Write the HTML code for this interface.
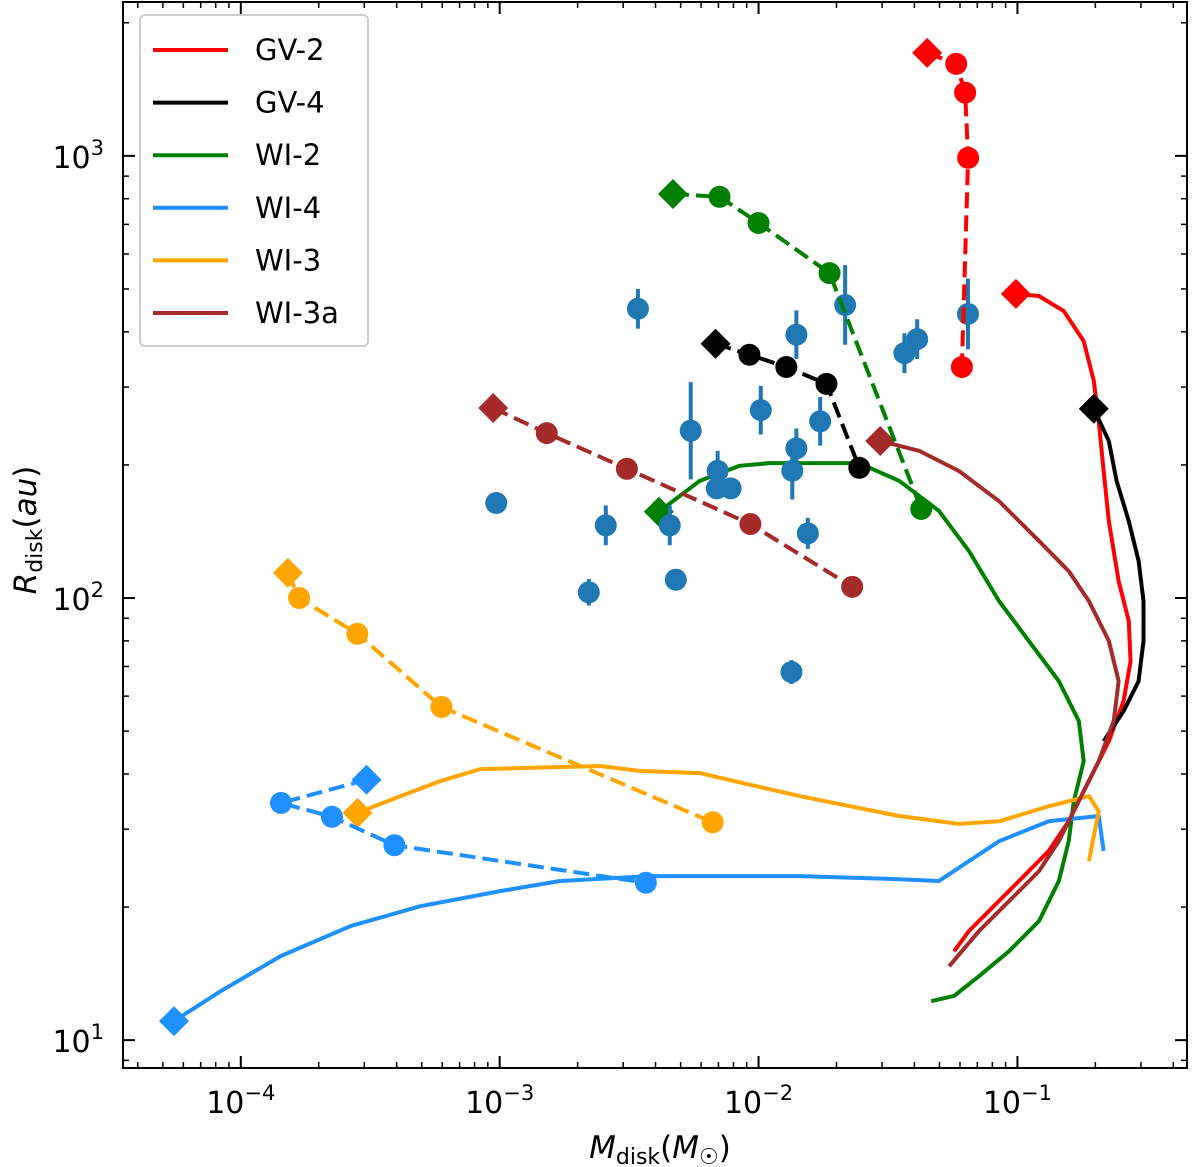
<!DOCTYPE html>
<html><head><meta charset="utf-8"><style>
html,body{margin:0;padding:0;background:#fff;}
svg{display:block;font-family:"DejaVu Sans","Liberation Sans",sans-serif;}
</style></head><body>
<svg id="chart" width="1200" height="1167" viewBox="0 0 1200 1167" xmlns="http://www.w3.org/2000/svg">
<g id="plot"></g>
</svg>
<script>
// ---------- data ----------
const xTickExps = [-4, -3, -2, -1];
const yTickExps = [1, 2, 3];
const seriesNames = ["GV-2", "GV-4", "WI-2", "WI-4", "WI-3", "WI-3a"];
const seriesColors = ["#ff0000", "#000000", "#008000", "#1e90ff", "#ffa500", "#a52a2a"];

// dashed tracks (Mdisk in Msun, Rdisk in au); first point is diamond
const gv2DashM = [0.0448, 0.058, 0.0628, 0.0645, 0.061];
const gv2DashR = [1710, 1615, 1390, 990, 333];
const gv4DashM = [0.00682, 0.00922, 0.0128, 0.0183, 0.0245];
const gv4DashR = [376, 355, 333, 305, 197];
const wi2DashM = [0.00467, 0.00707, 0.01, 0.0188, 0.0425];
const wi2DashR = [820, 808, 705, 543, 159];
const wi4DashM = [0.000306, 0.000143, 0.000225, 0.000392, 0.00367];
const wi4DashR = [38.8, 34.4, 32.0, 27.6, 22.7];
const wi3DashM = [0.000152, 0.000168, 0.000282, 0.000596, 0.00665];
const wi3DashR = [114, 100, 83, 56.7, 31.1];
const wi3aDashM = [0.000944, 0.00152, 0.0031, 0.0093, 0.023];
const wi3aDashR = [269, 236, 196, 147, 106];

// solid tracks stored as log10 values
const gv2LogM = [-1.006,-0.917,-0.821,-0.744,-0.705,-0.686,-0.667,-0.647,-0.609,-0.570,-0.563,-0.590,-0.647,-0.724,-0.802,-0.879,-0.994,-1.110,-1.187,-1.245];
const gv2LogR = [2.688,2.683,2.649,2.581,2.491,2.400,2.287,2.174,2.038,1.948,1.857,1.767,1.676,1.586,1.495,1.428,1.360,1.292,1.247,1.201];
const gv4LogM = [-0.705,-0.647,-0.617,-0.570,-0.532,-0.513,-0.513,-0.532,-0.590,-0.667];
const gv4LogR = [2.428,2.355,2.265,2.174,2.084,1.993,1.903,1.812,1.744,1.676];
const wi2LogM = [-2.385,-2.227,-2.073,-1.958,-1.611,-1.457,-1.303,-1.187,-1.071,-0.956,-0.840,-0.763,-0.744,-0.782,-0.802,-0.840,-0.917,-1.033,-1.148,-1.245,-1.333];
const wi2LogR = [2.195,2.265,2.299,2.305,2.305,2.265,2.197,2.106,1.993,1.903,1.812,1.722,1.631,1.541,1.450,1.360,1.269,1.201,1.145,1.100,1.088];
const wi4LogM = [-4.258,-4.077,-3.846,-3.576,-3.306,-2.998,-2.767,-2.420,-1.842,-1.457,-1.303,-1.187,-1.071,-0.879,-0.686,-0.667];
const wi4LogR = [1.043,1.111,1.190,1.258,1.303,1.337,1.360,1.371,1.371,1.364,1.360,1.405,1.450,1.495,1.507,1.428];
const wi3LogM = [-3.549,-3.383,-3.229,-3.075,-2.613,-2.459,-2.227,-1.842,-1.457,-1.225,-1.071,-0.879,-0.724,-0.686,-0.724];
const wi3LogR = [1.514,1.552,1.586,1.613,1.620,1.609,1.604,1.552,1.507,1.489,1.495,1.529,1.552,1.518,1.405];
const wi3aLogM = [-1.530,-1.380,-1.225,-1.071,-0.917,-0.802,-0.724,-0.647,-0.609,-0.628,-0.686,-0.763,-0.840,-0.917,-1.033,-1.148,-1.264];
const wi3aLogR = [2.355,2.333,2.287,2.219,2.129,2.061,1.993,1.903,1.812,1.722,1.631,1.541,1.450,1.382,1.314,1.247,1.167];

// observations
const obsM = [0.00342,0.00097,0.00221,0.00257,0.00479,0.00547,0.00695,0.0078,0.00454,0.0102,0.014,0.014,0.0135,0.0173,0.0155,0.0134,0.0216,0.0366,0.041,0.0644,0.0069];
const obsR = [451,164,103,146,110,239,194,177,146,266,394,218,194,251,140,68,460,358,385,439,177];
const obsErrDex = [0.045,0.01,0.03,0.045,0,0.11,0.045,0.02,0.045,0.055,0.055,0.045,0.065,0.055,0.035,0.027,0.09,0.045,0.045,0.08,0];

// ---------- axes ----------
const L=123, R=1187, T=2, B=1068;
const xMinLog=-4.455, xMaxLog=-0.345, yMinLog=0.937, yMaxLog=3.348;
function xL(l){return L+(l-xMinLog)/(xMaxLog-xMinLog)*(R-L);}
function yL(l){return B-(l-yMinLog)/(yMaxLog-yMinLog)*(B-T);}
function xV(v){return xL(Math.log10(v));}
function yV(v){return yL(Math.log10(v));}
const NS="http://www.w3.org/2000/svg";
const g=document.getElementById('plot');
function mk(tag,attrs,parent){const e=document.createElementNS(NS,tag);for(const k in attrs)e.setAttribute(k,attrs[k]);(parent||g).appendChild(e);return e;}
const DS=15;
function diamond(cx,cy){return [[0,-DS],[DS,0],[0,DS],[-DS,0]].map(q=>(cx+q[0])+','+(cy+q[1])).join(' ');}

const solids=[[gv2LogM,gv2LogR],[gv4LogM,gv4LogR],[wi2LogM,wi2LogR],[wi4LogM,wi4LogR],[wi3LogM,wi3LogR],[wi3aLogM,wi3aLogR]];
const dashes=[[gv2DashM,gv2DashR],[gv4DashM,gv4DashR],[wi2DashM,wi2DashR],[wi4DashM,wi4DashR],[wi3DashM,wi3DashR],[wi3aDashM,wi3aDashR]];
const drawOrder=[0,1,2,3,4,5];
drawOrder.forEach(i=>{
  const [lm,lr]=solids[i];
  const p=mk('polyline',{points:lm.map((m,j)=>xL(m)+','+yL(lr[j])).join(' '),fill:'none',stroke:seriesColors[i],'stroke-width':4,'stroke-linejoin':'round'});
  
  
  const d=mk('polygon',{points:diamond(xL(lm[0]),yL(lr[0])),fill:seriesColors[i]});
  
  
});
obsM.forEach((m,i)=>{
  const cx=xV(m), cy=yV(obsR[i]);
  const e=mk('line',{x1:cx,x2:cx,y1:yL(Math.log10(obsR[i])+obsErrDex[i]),y2:yL(Math.log10(obsR[i])-obsErrDex[i]),stroke:'#1f77b4','stroke-width':4});
  
  
  const c=mk('circle',{cx:cx,cy:cy,r:11,fill:'#1f77b4'});
  
  
});
drawOrder.forEach(i=>{
  const [ms,rs]=dashes[i];
  const p=mk('polyline',{points:ms.map((m,j)=>xV(m)+','+yV(rs[j])).join(' '),fill:'none',stroke:seriesColors[i],'stroke-width':4,'stroke-dasharray':'16,7'});
  
  
  ms.forEach((m,j)=>{
    const cx=xV(m), cy=yV(rs[j]);
    let e;
    if(j===0){e=mk('polygon',{points:diamond(cx,cy),fill:seriesColors[i]});}
    else{e=mk('circle',{cx:cx,cy:cy,r:11,fill:seriesColors[i]});}
    
    
  });
});
const fr=mk('rect',{x:L,y:T,width:R-L,height:B-T,fill:'none',stroke:'#000','stroke-width':2});


for(let e=-5;e<=0;e++){for(let k=1;k<10;k++){const l=e+Math.log10(k);if(l<xMinLog||l>xMaxLog)continue;const x=xL(l);const len=k===1?12:6;
  const t=mk('line',{x1:x,x2:x,y1:B,y2:B-len,stroke:'#000','stroke-width':k===1?2:1.5});
  
  
  const t2=mk('line',{x1:x,x2:x,y1:T,y2:T+len,stroke:'#000','stroke-width':k===1?2:1.5});
  
  
}}
for(let e=0;e<=4;e++){for(let k=1;k<10;k++){const l=e+Math.log10(k);if(l<yMinLog||l>yMaxLog)continue;const y=yL(l);const len=k===1?12:6;
  const t=mk('line',{x1:L,x2:L+len,y1:y,y2:y,stroke:'#000','stroke-width':k===1?2:1.5});
  
  
  const t2=mk('line',{x1:R,x2:R-len,y1:y,y2:y,stroke:'#000','stroke-width':k===1?2:1.5});
  
  
}}
xTickExps.forEach(e=>{
  const t=mk('text',{x:xL(e),y:1113,'text-anchor':'middle','font-size':30,fill:'#000'});
  
  
  t.innerHTML='10<tspan dy="-13" font-size="21">\u2212'+Math.abs(e)+'</tspan>';
});
yTickExps.forEach(e=>{
  const t=mk('text',{x:104,y:yL(e)+12,'text-anchor':'end','font-size':30,fill:'#000'});
  
  
  t.innerHTML='10<tspan dy="-13" font-size="21">'+e+'</tspan>';
});
const xt=mk('text',{x:660,y:1158,'text-anchor':'middle','font-size':31,fill:'#000'});


xt.innerHTML='<tspan font-style="italic">M</tspan><tspan font-size="22" dy="6">disk</tspan><tspan dy="-6">(</tspan><tspan font-style="italic">M</tspan><tspan font-size="22" dy="6">\u2609</tspan><tspan dy="-6">)</tspan>';
const yt=mk('text',{x:0,y:0,'text-anchor':'middle','font-size':31,fill:'#000',transform:'translate(36,530) rotate(-90)'});


yt.innerHTML='<tspan font-style="italic">R</tspan><tspan font-size="22" dy="6">disk</tspan><tspan dy="-6">(</tspan><tspan font-style="italic">au</tspan>)';
const lg=mk('g',{});


const lb=mk('rect',{x:140,y:15,width:228,height:331,rx:5,fill:'#fff',stroke:'#ccc','stroke-width':2},lg);


seriesNames.forEach((n,i)=>{
  const y=50+i*52.6;
  const eg=mk('g',{},lg);
  
  
  mk('line',{x1:153,x2:228,y1:y,y2:y,stroke:seriesColors[i],'stroke-width':4},eg);
  const t=mk('text',{x:255,y:y+10,'font-size':29,fill:'#000'},eg);
  t.textContent=n;
});
</script>
</body></html>
